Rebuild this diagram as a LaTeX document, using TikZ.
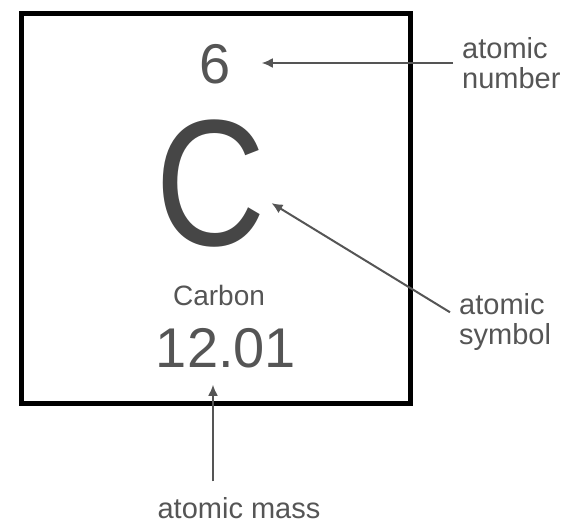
\documentclass[tikz,border=0pt]{standalone}
\usepackage{fontspec}
\setmainfont{Liberation Sans}
\usetikzlibrary{arrows.meta,positioning}
\definecolor{inkgray}{HTML}{555555}
\definecolor{darkgray}{HTML}{464646}

\begin{document}
\begin{tikzpicture}[x=1pt,y=-1pt,
    value/.style={inner sep=0pt,text=inkgray,anchor=base},
    callout/.style={align=left,text=inkgray,anchor=west,inner sep=9pt,font=\fontsize{29}{30}\selectfont},
    pointer/.style={-{Latex[length=11pt,width=10pt]},line width=2pt,draw=inkgray}]
    \useasboundingbox (0,0) rectangle (567,524);

    % the element cell
    \draw[line width=5pt] (21,14) rectangle (410,403);
    \node[value,font=\fontsize{56}{56}\selectfont] (num) at (215,84) {6};
    \node[value,text=darkgray,font=\fontsize{180}{180}\selectfont] (sym) at (211,245) {\scalebox{0.85}[1]{C}};
    \node[value,font=\fontsize{28}{28}\selectfont] (name) at (219,305) {Carbon};
    \node[value,font=\fontsize{56}{56}\selectfont] (mass) at (226,367) {12.01};

    % labels round it
    \node[callout] (numlbl) at (453,63) {atomic\\number};
    \node[callout] (symlbl) at (450,322) {atomic\\symbol};
    \node[anchor=base,text=inkgray,font=\fontsize{29}{29}\selectfont] (masslbl) at (239,518) {atomic mass};

    \draw[pointer,shorten >=31pt] (numlbl.west) -- (numlbl.west -| num.east);
    \draw[pointer,shorten >=6pt] (symlbl.170) -- (sym.-17);
    \draw[pointer,shorten <=12pt,shorten >=17pt] ([xshift=-26pt]masslbl.north) -- ([xshift=-26pt]masslbl.north |- mass.south);
\end{tikzpicture}
\end{document}
